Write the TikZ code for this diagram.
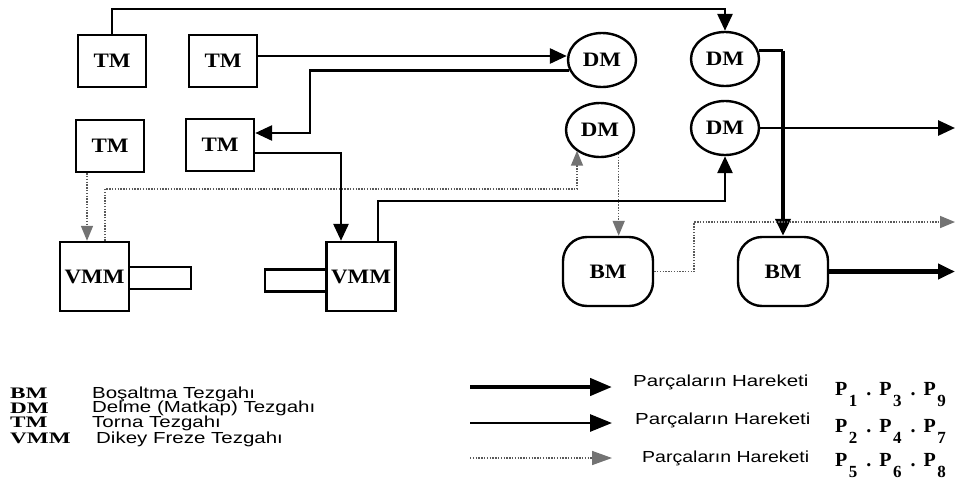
\documentclass[tikz,border=0pt]{standalone}
\usepackage{fontspec}
\usepackage{graphicx}
\setmainfont{Liberation Serif}
\setsansfont{Liberation Sans}
\usetikzlibrary{arrows.meta,shapes.geometric}
\newcommand{\hx}[2]{\scalebox{#1}[1]{#2}}
\newcommand{\Ps}[1]{P\hspace{1.5pt}\raisebox{-11pt}{\fontsize{17}{17}\selectfont #1}}
\newcommand{\Pgroup}[3]{\Ps{#1}\hspace{9pt}.\hspace{8pt}\Ps{#2}\hspace{9pt}.\hspace{8pt}\Ps{#3}}
\begin{document}
\begin{tikzpicture}[x=1pt,y=-1pt,
  lab/.style={font=\fontsize{20.5}{21}\selectfont\bfseries},
  tmbox/.style={draw,line width=2.4pt,minimum width=68pt,minimum height=52pt,inner sep=0pt,lab},
  vbox/.style={draw,line width=2.4pt,minimum width=69pt,minimum height=69pt,inner sep=0pt,lab},
  tabbox/.style={draw,line width=2.4pt,minimum width=62pt,minimum height=22pt,inner sep=0pt},
  dmell/.style={draw,ellipse,line width=2.4pt,minimum width=68pt,minimum height=54pt,inner sep=0pt,lab},
  bmbox/.style={draw,rectangle,rounded corners=24pt,line width=2.4pt,minimum width=90pt,minimum height=69pt,inner sep=0pt,lab},
  med/.style={line width=2.8pt},
  thk/.style={line width=4.4pt},
  dotl/.style={line width=1.6pt,draw=black!65,dash pattern=on 1.4pt off 1.4pt},
  arr/.style={-{Triangle[length=17pt,width=15pt]}},
  darr/.style={-{Triangle[length=15pt,width=12pt,color=black!55]}},
  larr/.style={-{Triangle[length=22pt,width=17pt]}},
  ldarr/.style={-{Triangle[length=20pt,width=14pt,color=black!55]}},
  desc/.style={anchor=west,inner sep=0pt,font=\sffamily\fontsize{16}{17}\selectfont},
  abbr/.style={anchor=west,inner sep=0pt,font=\fontsize{16}{17}\selectfont\bfseries},
  pss/.style={anchor=west,inner sep=0pt,font=\fontsize{20}{21}\selectfont\bfseries}
]
\useasboundingbox (0,0) rectangle (960,482);

% machines
\node[tmbox] (t1) at (112,61) {\hx{1.12}{TM}};
\node[tmbox] (t2) at (223,61) {\hx{1.12}{TM}};
\node[tmbox] (t3) at (110,146) {\hx{1.12}{TM}};
\node[tmbox] (t4) at (220,145) {\hx{1.12}{TM}};
\node[dmell] (d1) at (602,60) {\hx{1.12}{DM}};
\node[dmell] (d2) at (725,59) {\hx{1.12}{DM}};
\node[dmell] (d3) at (600,130) {\hx{1.12}{DM}};
\node[dmell] (d4) at (725,128) {\hx{1.12}{DM}};
\node[vbox] (v1) at (94.5,276.5) {\hx{1.12}{VMM}};
\node[tabbox] (r1) at (160,278) {};
\node[vbox] (v2) at (361,276.5) {\hx{1.12}{VMM}};
\node[tabbox] (r2) at (296,280.5) {};
\node[bmbox] (b1) at (608,271.5) {\hx{1.12}{BM}};
\node[bmbox] (b2) at (783,271.5) {\hx{1.12}{BM}};

% free ends
\coordinate (k0) at (112,9);
\coordinate (k1) at (310,133);
\coordinate (k2) at (500,201);
\coordinate (k4) at (577,189);
\coordinate (e1) at (955,128);
\coordinate (e2) at (955,222);
\coordinate (e3) at (955,271.5);

% solid connectors
\draw[med,arr] (t1.north) -- (k0) -| (d2.north);
\draw[med,arr] ([yshift=5pt]t2.east) -- ([yshift=5pt]t2.east -| d1.west);
\draw[med,arr] (d1.198) -| (k1) -- ([yshift=12pt]t4.east);
\draw[med,arr] ([yshift=-8pt]t4.east) -| ([xshift=-20pt]v2.north);
\draw[med,arr] ([xshift=17pt]v2.north) |- (k2) -| (d4.south);
\draw[med,arr] (d4.east) -- (e1);
\coordinate (k3) at (d2.14 -| b2.north);
\draw[med] (d2.14) -- (k3);
\draw[thk,arr] (k3) -- (b2.north);
\draw[thk,arr] (b2.east) -- (e3);

% dotted connectors
\draw[dotl,darr] ([xshift=-23pt]t3.south) -- ([xshift=-23pt]t3.south |- v1.north);
\draw[dotl,darr] ([xshift=10.5pt]v1.north) |- (k4) -- (k4 |- d3.221);
\draw[dotl,darr] (d3.308) -- (d3.308 |- b1.north);
\draw[dotl,darr] (b1.east) -- ++(40,0) |- (e2);

% legend left
\node[abbr] (a1) at (10,393) {\hx{1.45}{BM}};
\node[abbr] (a2) at (10,408) {\hx{1.45}{DM}};
\node[abbr] (a3) at (10,422) {\hx{1.45}{TM}};
\node[abbr] (a4) at (10,438) {\hx{1.45}{VMM}};
\node[desc] (s1) at (92,394) {\hx{1.28}{Boşaltma Tezgahı}};
\node[desc] (s2) at (92,408.5) {\hx{1.28}{Delme (Matkap) Tezgahı}};
\node[desc] (s3) at (92,423.5) {\hx{1.28}{Torna Tezgahı}};
\node[desc] (s4) at (96,439.5) {\hx{1.28}{Dikey Freze Tezgahı}};

% legend right
\coordinate (la1) at (470,387); \coordinate (lb1) at (612,387);
\coordinate (la2) at (470,423); \coordinate (lb2) at (612,423);
\coordinate (la3) at (470,458); \coordinate (lb3) at (612,458);
\draw[thk,larr] (la1) -- (lb1);
\draw[med,larr] (la2) -- (lb2);
\draw[dotl,ldarr] (la3) -- (lb3);
\node[desc] (h1) at (633,382.5) {\hx{1.28}{Parçaların Hareketi}};
\node[desc] (h2) at (635,420.5) {\hx{1.28}{Parçaların Hareketi}};
\node[desc] (h3) at (642,458.5) {\hx{1.22}{Parçaların Hareketi}};
\node[pss,anchor=base west] (q1) at (835,395) {\Pgroup{1}{3}{9}};
\node[pss,anchor=base west] (q2) at (835,432) {\Pgroup{2}{4}{7}};
\node[pss,anchor=base west] (q3) at (835,466) {\Pgroup{5}{6}{8}};
\end{tikzpicture}
\end{document}
